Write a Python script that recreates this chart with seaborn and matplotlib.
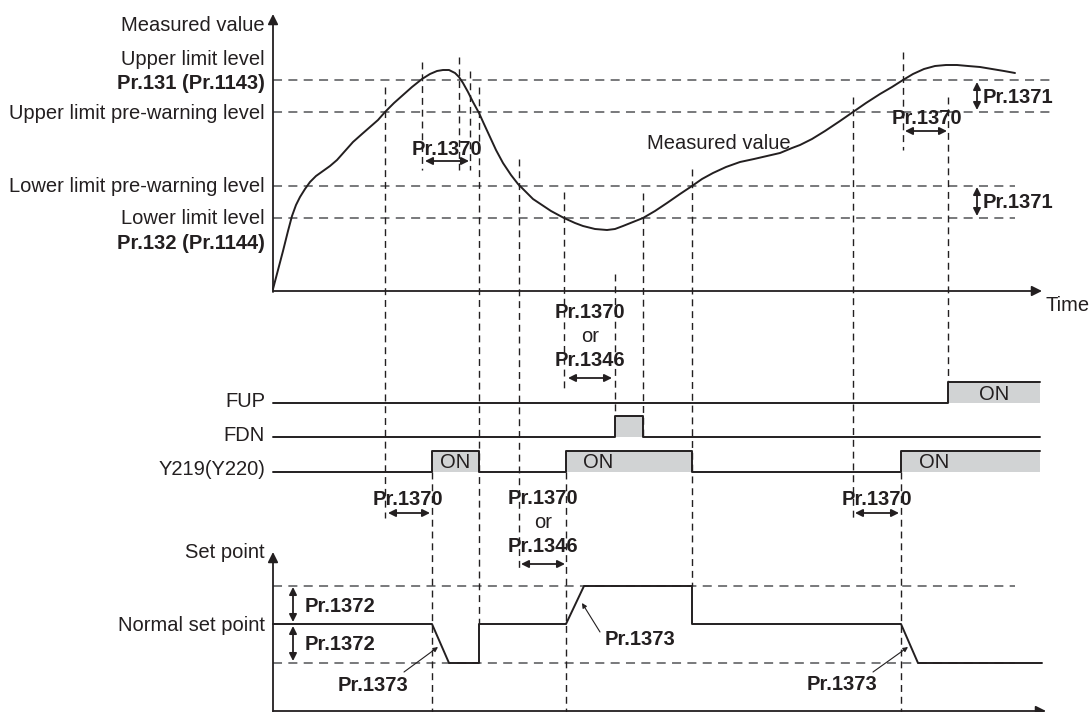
import numpy as np
import pandas as pd
import matplotlib
matplotlib.use("Agg")
import matplotlib.pyplot as plt
import seaborn as sns

# Timing chart values (time runs left to right,
# level values are in the chart's own vertical units, growing downward)

# measured value curve
curve_time = [273, 278, 283, 288, 292, 296, 300, 305, 310, 316, 323, 330, 337, 345, 353,
              362, 370, 378, 385, 394, 403, 412, 422, 430, 437, 443, 449, 455, 459, 463,
              468, 473, 479, 484, 490, 496, 503, 511, 518, 526, 533, 542, 551, 564, 575,
              583, 595, 607, 615, 623, 633, 643, 655, 667, 680, 692, 702, 713, 726, 740,
              754, 767, 780, 792, 800, 812, 825, 840, 853, 866, 880, 892, 903, 913, 924,
              935, 946, 957, 968, 980, 992, 1004, 1015]
curve_level = [289, 270, 251, 231, 216, 205, 197, 189, 182, 176, 171, 166, 160, 151, 142,
               134, 127, 120, 112, 103, 95, 87, 79, 74, 71, 70, 70, 73, 77, 83,
               92, 102, 113, 124, 137, 150, 163, 175, 184, 192, 199, 205, 211, 218, 223,
               226, 229, 230, 229, 226, 222, 218, 211, 203, 194, 186, 179, 173, 167, 162,
               159, 156, 153, 148, 145, 139, 131, 121, 112, 103, 94, 87, 80, 74, 69,
               66, 65, 65, 66, 67, 69, 71, 73]

# threshold levels of the measured value
level_names = ["upper", "upper_pre", "lower_pre", "lower"]
level_value = [80, 112, 186, 218]
level_end = [1055, 1055, 1015, 1015]

# output signals: baseline level and ON intervals
signal_names = ["FUP", "FDN", "Y219(Y220)"]
signal_base = [403, 437, 472]
signal_on = [[(948, 1040)], [(615, 643)], [(432, 479), (566, 692), (901, 1040)]]
on_text_time = [[994], [], [455, 598, 934]]
signal_start, signal_end, signal_height = 273, 1040, 21

# set point trace
sp_time = [273, 432, 449, 479, 479, 566, 584, 692, 692, 901, 918, 1042]
sp_level = [624, 624, 663, 663, 624, 624, 586, 586, 624, 624, 663, 663]
sp_band = [586, 663]

# vertical timing guides: time, from, to
guide_time = [385, 422, 459, 470, 479, 519, 564, 615, 643, 692, 853, 903, 948, 432, 566, 901]
guide_from = [87, 62, 57, 71, 87, 159, 192, 274, 193, 169, 97, 52, 97, 472, 472, 472]
guide_to = [518, 170, 170, 170, 624, 570, 388, 416, 437, 586, 518, 150, 382, 712, 712, 712]

# delay spans (Pr.1370 / Pr.1346)
span_from = [425, 905, 568, 388, 521, 855]
span_to = [469, 947, 612, 430, 565, 899]
span_level = [161, 131, 378, 513, 564, 513]
span_text = ["Pr.1370", "Pr.1370", "Pr.1370\nor\nPr.1346", "Pr.1370",
             "Pr.1370\nor\nPr.1346", "Pr.1370"]
span_text_time = [447, 927, 590, 408, 543, 877]
span_text_level = [148, 117, 335, 498, 521, 498]

# left-side labels
left_labels = ["Measured value", "Upper limit level", "Pr.131 (Pr.1143)",
               "Upper limit pre-warning level", "Lower limit pre-warning level",
               "Lower limit level", "Pr.132 (Pr.1144)", "FUP", "FDN", "Y219(Y220)",
               "Set point", "Normal set point"]
left_label_level = [24, 58, 82, 112, 185, 217, 242, 400, 434, 468, 551, 624]
left_label_bold = [False, False, True, False, False, False, True,
                   False, False, False, False, False]

INK = "#231f20"
DASH_GREY = "#6d6e71"
ON_FILL = "#d1d3d4"

sns.set_theme(style="white")
plt.rcParams["font.family"] = ["Liberation Sans", "DejaVu Sans"]

fig = plt.figure(figsize=(10.89, 7.12), dpi=100)
ax = fig.add_axes([0, 0, 1, 1])
ax.set_xlim(0, 1089)
ax.set_ylim(712, 0)
ax.axis("off")

FS = 14.5
DY = 1.5  # visual centring of glyphs


def label(x, y, s, bold=False, ha="center"):
    ax.text(x, y + DY, s, fontsize=FS, fontweight="bold" if bold else "normal",
            ha=ha, va="center", color=INK)


def arrow(x0, y0, x1, y1, style="-|>", lw=1.3, ms=14):
    ax.annotate("", xy=(x1, y1), xytext=(x0, y0),
                arrowprops=dict(arrowstyle=style, color=INK, lw=lw,
                                mutation_scale=ms, shrinkA=0, shrinkB=0))


# threshold level lines
for lv, end in zip(level_value, level_end):
    ax.plot([273, end], [lv, lv], color=DASH_GREY, lw=1.3, ls=(0, (5, 3.5)))
for lv in sp_band:
    ax.plot([273, 1015], [lv, lv], color=DASH_GREY, lw=1.3, ls=(0, (5, 3.5)))

# vertical guides
for t, a, b in zip(guide_time, guide_from, guide_to):
    ax.plot([t, t], [a, b], color=INK, lw=1.0, ls=(0, (5, 3.5)))

# measured value curve
curve = pd.DataFrame({"time": curve_time, "level": curve_level})
sns.lineplot(data=curve, x="time", y="level", ax=ax, color=INK, lw=1.4,
             sort=False, estimator=None)

# axes of the two graphs
arrow(273, 292, 273, 14, ms=15)
arrow(273, 291, 1042, 291, ms=15)
arrow(273, 712, 273, 552, ms=15)
arrow(273, 711, 1046, 711, ms=15)

# signal traces
for base, spans, txt in zip(signal_base, signal_on, on_text_time):
    high = base - signal_height
    xs, ys = [signal_start], [base]
    for a, b in spans:
        xs += [a, a, b, b]
        ys += [base, high, high, base]
        ax.fill_between([a, b], [base, base], [high, high], color=ON_FILL, lw=0)
    if xs[-1] < signal_end:
        xs.append(signal_end)
        ys.append(base)
    else:
        xs, ys = xs[:-1], ys[:-1]
    sns.lineplot(x=xs, y=ys, ax=ax, color=INK, lw=1.4, sort=False, estimator=None)
    for t in txt:
        label(t, base - signal_height / 2, "ON")

# set point trace
sns.lineplot(x=sp_time, y=sp_level, ax=ax, color=INK, lw=1.4, sort=False, estimator=None)

# delay spans
for a, b, lv, txt, tx, ty in zip(span_from, span_to, span_level, span_text,
                                 span_text_time, span_text_level):
    arrow(a, lv, b, lv, style="<|-|>", lw=1.3, ms=11)
    lines = txt.split("\n")
    if len(lines) == 1:
        label(tx, ty, txt, bold=True)
    else:
        for k, s in enumerate(lines):
            label(tx, ty + (k - 1) * 23.5, s, bold=(s != "or"))

# Pr.1371 hysteresis arrows
for a, b in [(82, 110), (187, 216)]:
    arrow(977, a, 977, b, style="<|-|>", lw=1.3, ms=11)
    label(983, (a + b) / 2, "Pr.1371", bold=True, ha="left")

# Pr.1372 band arrows
for a, b in [(587, 622), (626, 661)]:
    arrow(293, a, 293, b, style="<|-|>", lw=1.3, ms=11)
    label(305, (a + b) / 2, "Pr.1372", bold=True, ha="left")

# Pr.1373 ramp callouts
for (tx, ty), (x0, y0), (x1, y1) in [((373, 684), (404, 672), (438, 647)),
                                     ((640, 638), (600, 632), (582, 603)),
                                     ((842, 683), (873, 672), (908, 647))]:
    arrow(x0, y0, x1, y1, style="-|>", lw=0.8, ms=7)
    label(tx, ty, "Pr.1373", bold=True)

# labels
for txt, lv, bold in zip(left_labels, left_label_level, left_label_bold):
    label(265, lv, txt, bold=bold, ha="right")
label(647, 142, "Measured value", ha="left")
label(1045, 304, "Time", ha="left")

fig.savefig("out.png", dpi=100, facecolor="white")
